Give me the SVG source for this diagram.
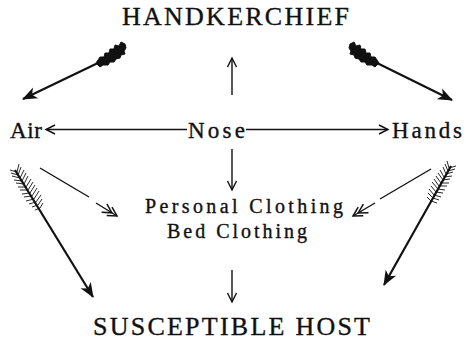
<svg xmlns="http://www.w3.org/2000/svg" width="466" height="342" viewBox="0 0 466 342">
<style>
text{font-family:"Liberation Serif","Times New Roman",Times,serif;fill:#111;stroke:#111;stroke-width:0.35}
.cap{font-size:26px}
.mid{font-size:23px}
.sm{font-size:20px}
.ln{stroke:#111;stroke-width:1.4;fill:none}
.sh{stroke:#111;stroke-width:2.2;fill:none}
.fl{fill:#111;stroke:#111;stroke-width:1}
.ht{stroke:#111;stroke-width:0.9;fill:none}
</style>
<defs>
<marker id="open" markerWidth="14" markerHeight="14" refX="0" refY="0" viewBox="-12 -7 14 14" orient="auto" markerUnits="userSpaceOnUse">
<path d="M-9,-4.5 L0,0 L-9,4.5" fill="none" stroke="#111" stroke-width="1.4"/>
</marker>
<marker id="dbl" markerWidth="20" markerHeight="14" refX="0" refY="0" viewBox="-18 -7 20 14" orient="auto" markerUnits="userSpaceOnUse">
<path d="M-9,-5 L0,0 L-9,5 M-15,-5 L-6,0 L-15,5" fill="none" stroke="#111" stroke-width="1.5"/>
</marker>
<marker id="barb" markerWidth="20" markerHeight="16" refX="0" refY="0" viewBox="-18 -8 20 16" orient="auto" markerUnits="userSpaceOnUse">
<path d="M1,0 L-14,-6 L-10,0 L-14,6 Z" fill="#111"/>
</marker>
</defs>
<rect width="466" height="342" fill="#fff"/>

<g id="handkerchief"><text class="cap" x="122" y="25" textLength="227" lengthAdjust="spacing">HANDKERCHIEF</text></g>
<g id="air"><text class="mid" x="10" y="138" textLength="32" lengthAdjust="spacing">Air</text></g>
<g id="nose"><text class="mid" x="188" y="138" textLength="57" lengthAdjust="spacing">Nose</text></g>
<g id="hands"><text class="mid" x="392" y="138" textLength="70" lengthAdjust="spacing">Hands</text></g>
<g id="clothing">
<text class="sm" x="145" y="213" textLength="198" lengthAdjust="spacing">Personal Clothing</text>
<text class="sm" x="167" y="238" textLength="140" lengthAdjust="spacing">Bed Clothing</text>
</g>
<g id="host"><text class="cap" x="93" y="335" textLength="277" lengthAdjust="spacing">SUSCEPTIBLE HOST</text></g>

<g id="connectors">
<line class="ln" x1="232" y1="95" x2="232" y2="58" marker-end="url(#open)"/>
<line class="ln" x1="232" y1="149" x2="232" y2="190" marker-end="url(#open)"/>
<line class="ln" x1="232" y1="270" x2="232" y2="302" marker-end="url(#open)"/>
<line class="ln" x1="187" y1="129.5" x2="46" y2="129.5" marker-end="url(#open)"/>
<line class="ln" x1="246" y1="129.5" x2="388" y2="129.5" marker-end="url(#open)"/>
<line class="ln" x1="40" y1="168" x2="89" y2="197"/>
<line class="ln" x1="96" y1="203" x2="117" y2="216" marker-end="url(#dbl)"/>
<line class="ln" x1="431" y1="169" x2="380" y2="199"/>
<line class="ln" x1="375" y1="203" x2="353" y2="216" marker-end="url(#dbl)"/>

<line class="sh" x1="100" y1="62" x2="23" y2="99" marker-end="url(#barb)"/>
<path class="fl" d="M96,63 L100,57 L104,57 L105,53 L109,53 L110,49 L114,49 L115,45 L119,46 L121,42 L125,44 L126,48 L124,51 L125,54 L121,55 L120,58 L116,59 L114,62 L110,62 L108,65 L103,65 L100,67 Z"/>
<line class="sh" x1="375" y1="62" x2="452" y2="100" marker-end="url(#barb)"/>
<path class="fl" d="M379,63 L375,57 L371,57 L370,53 L366,53 L365,49 L361,49 L360,45 L356,46 L354,42 L350,44 L349,48 L351,51 L350,54 L354,55 L355,58 L359,59 L361,62 L365,62 L367,65 L372,65 L375,67 Z"/>

<line class="sh" x1="15" y1="170" x2="93" y2="297" marker-end="url(#barb)"/>
<g class="ht">
<path d="M17,172 L10,170 M18,175 L11,173 M20,178 L12,176 M22,181 L14,180 M24,184 L16,183 M26,187 L18,187 M28,190 L20,190 M30,193 L22,194 M32,196 L24,197 M34,199 L26,201 M36,202 L29,204 M38,205 L32,207 M40,208 L35,210"/>
<path d="M17,172 L19,164 M18,175 L21,167 M20,178 L24,170 M22,181 L26,173 M24,184 L28,176 M26,187 L31,179 M28,190 L33,182 M30,193 L35,185 M32,196 L37,188 M34,199 L39,191 M36,202 L41,195 M38,205 L42,199 M40,208 L43,203"/>
</g>
<line class="sh" x1="451" y1="166" x2="384" y2="285" marker-end="url(#barb)"/>
<g class="ht">
<path d="M449,168 L456,166 M448,171 L455,169 M446,174 L453,172 M444,177 L452,176 M443,180 L450,179 M441,183 L449,183 M439,186 L447,186 M438,189 L445,190 M436,192 L443,193 M434,195 L441,197 M433,198 L439,200 M431,201 L437,203"/>
<path d="M449,168 L447,161 M448,171 L445,164 M446,174 L443,167 M444,177 L440,170 M443,180 L438,173 M441,183 L436,176 M439,186 L434,179 M438,189 L432,182 M436,192 L431,186 M434,195 L429,189 M433,198 L428,193 M431,201 L427,197"/>
</g>
</g>
</svg>
